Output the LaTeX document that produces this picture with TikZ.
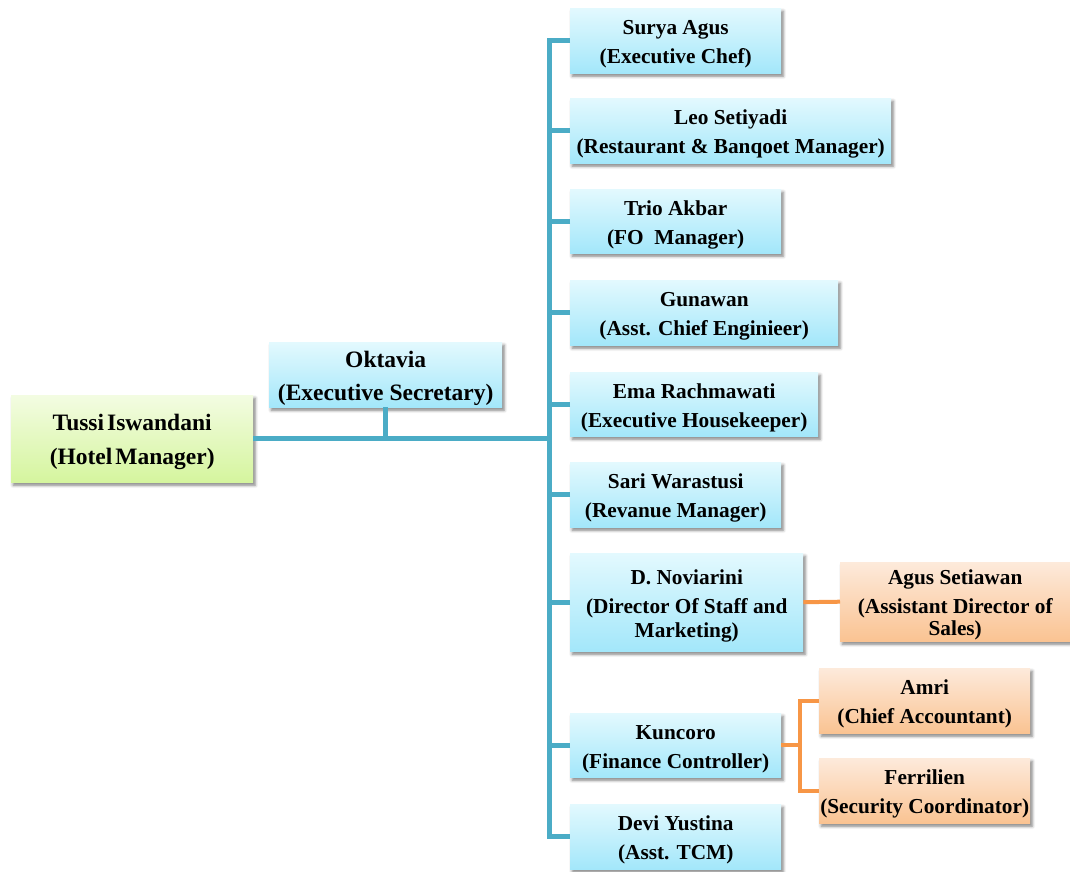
\documentclass[tikz,border=0pt]{standalone}
\usepackage{fontspec}
\setmainfont{Liberation Serif}
\usetikzlibrary{shadows.blur}
\definecolor{lineblue}{HTML}{4BACC6}
\definecolor{lineorange}{HTML}{F79646}
\definecolor{bluetop}{HTML}{E3F9FE}
\definecolor{bluebot}{HTML}{A3E7FA}
\definecolor{orangetop}{HTML}{FDEADB}
\definecolor{orangebot}{HTML}{FAC392}
\definecolor{greentop}{HTML}{F3FCE2}
\definecolor{greenbot}{HTML}{D5F59E}
\newcommand{\tstrut}{\rule{0pt}{22pt}}
\newcommand{\bstrut}{\rule{0pt}{23pt}}
\begin{document}
\begin{tikzpicture}[x=1pt,y=-1pt,
  box/.style={rectangle, draw=none, anchor=north west, align=center, inner sep=0pt,
    font=\bfseries\fontsize{21.3}{29}\selectfont,
    blur shadow={shadow xshift=2pt, shadow yshift=-3pt, shadow blur radius=3pt, shadow opacity=50}},
  bluebox/.style={box, top color=bluetop, bottom color=bluebot},
  orangebox/.style={box, top color=orangetop, bottom color=orangebot},
  greenbox/.style={box, top color=greentop, bottom color=greenbot},
  bigtext/.style={font=\bfseries\fontsize{23.5}{34}\selectfont},
  conn/.style={draw=lineblue, line width=5pt},
  oconn/.style={draw=lineorange, line width=4pt}
]
\useasboundingbox (0,0) rectangle (1070,871);

% main nodes
\node[greenbox, bigtext, minimum width=242pt, minimum height=87pt] (tussi) at (11,395) {\bstrut Tussi\hspace{3pt}Iswandani\\(Hotel\hspace{3pt}Manager)};
\node[bluebox, font=\bfseries\fontsize{23.5}{33}\selectfont, minimum width=233pt, minimum height=65pt] (okt) at (269,342) {\bstrut Oktavia\\(Executive Secretary)};

\node[bluebox, minimum width=211pt, minimum height=65pt] (surya) at (570,8) {\tstrut Surya Agus\\(Executive Chef)};
\node[bluebox, minimum width=321pt, minimum height=65pt] (leo) at (570,98) {\tstrut Leo Setiyadi\\(Restaurant \& Banqoet Manager)};
\node[bluebox, minimum width=211pt, minimum height=64pt] (trio) at (570,189) {\tstrut Trio Akbar\\(FO\enspace Manager)};
\node[bluebox, minimum width=268pt, minimum height=65pt] (gun) at (570,280) {\tstrut Gunawan\\(Asst. Chief Enginieer)};
\node[bluebox, minimum width=248pt, minimum height=64pt] (ema) at (570,372) {\tstrut Ema Rachmawati\\(Executive Housekeeper)};
\node[bluebox, minimum width=211pt, minimum height=65pt] (sari) at (570,462) {\tstrut Sari Warastusi\\(Revanue Manager)};
\node[bluebox, minimum width=233pt, minimum height=98pt] (novi) at (570,553) {\tstrut D. Noviarini\\(Director Of Staff and\\[-5pt]Marketing)};
\node[bluebox, minimum width=211pt, minimum height=64pt] (kun) at (570,713) {\tstrut Kuncoro\\(Finance Controller)};
\node[bluebox, minimum width=211pt, minimum height=65pt] (devi) at (570,804) {\tstrut Devi Yustina\\(Asst. TCM)};

\node[orangebox, minimum width=230pt, minimum height=79pt] (agus) at (840,562) {\tstrut Agus Setiawan\\(Assistant Director of\\[-7pt]Sales)};
\node[orangebox, minimum width=211pt, minimum height=65pt] (amri) at (819,668) {\tstrut Amri\\(Chief Accountant)};
\node[orangebox, minimum width=211pt, minimum height=65pt] (ferr) at (819,758) {\tstrut Ferrilien\\(Security Coordinator)};

% connectors
\coordinate (trunk) at (549,437);
\coordinate (osplit) at (800,746);
\draw[conn] (tussi.east) -- (tussi.east -| trunk);
\draw[conn] (okt.south) -- (okt.south |- tussi.east);
\draw[conn, line join=miter] (surya.west) -- (surya.west -| trunk) -- (devi.west -| trunk) -- (devi.west);
\foreach \n in {leo,trio,gun,ema,sari,novi,kun}
  \draw[conn] (\n.west) -- (\n.west -| trunk);

\draw[oconn] (novi.east) -- (agus.west);
\draw[oconn] (kun.east) -- (kun.east -| osplit);
\draw[oconn, line join=miter] (amri.west) -- (amri.west -| osplit) -- (ferr.west -| osplit) -- (ferr.west);
\end{tikzpicture}
\end{document}
